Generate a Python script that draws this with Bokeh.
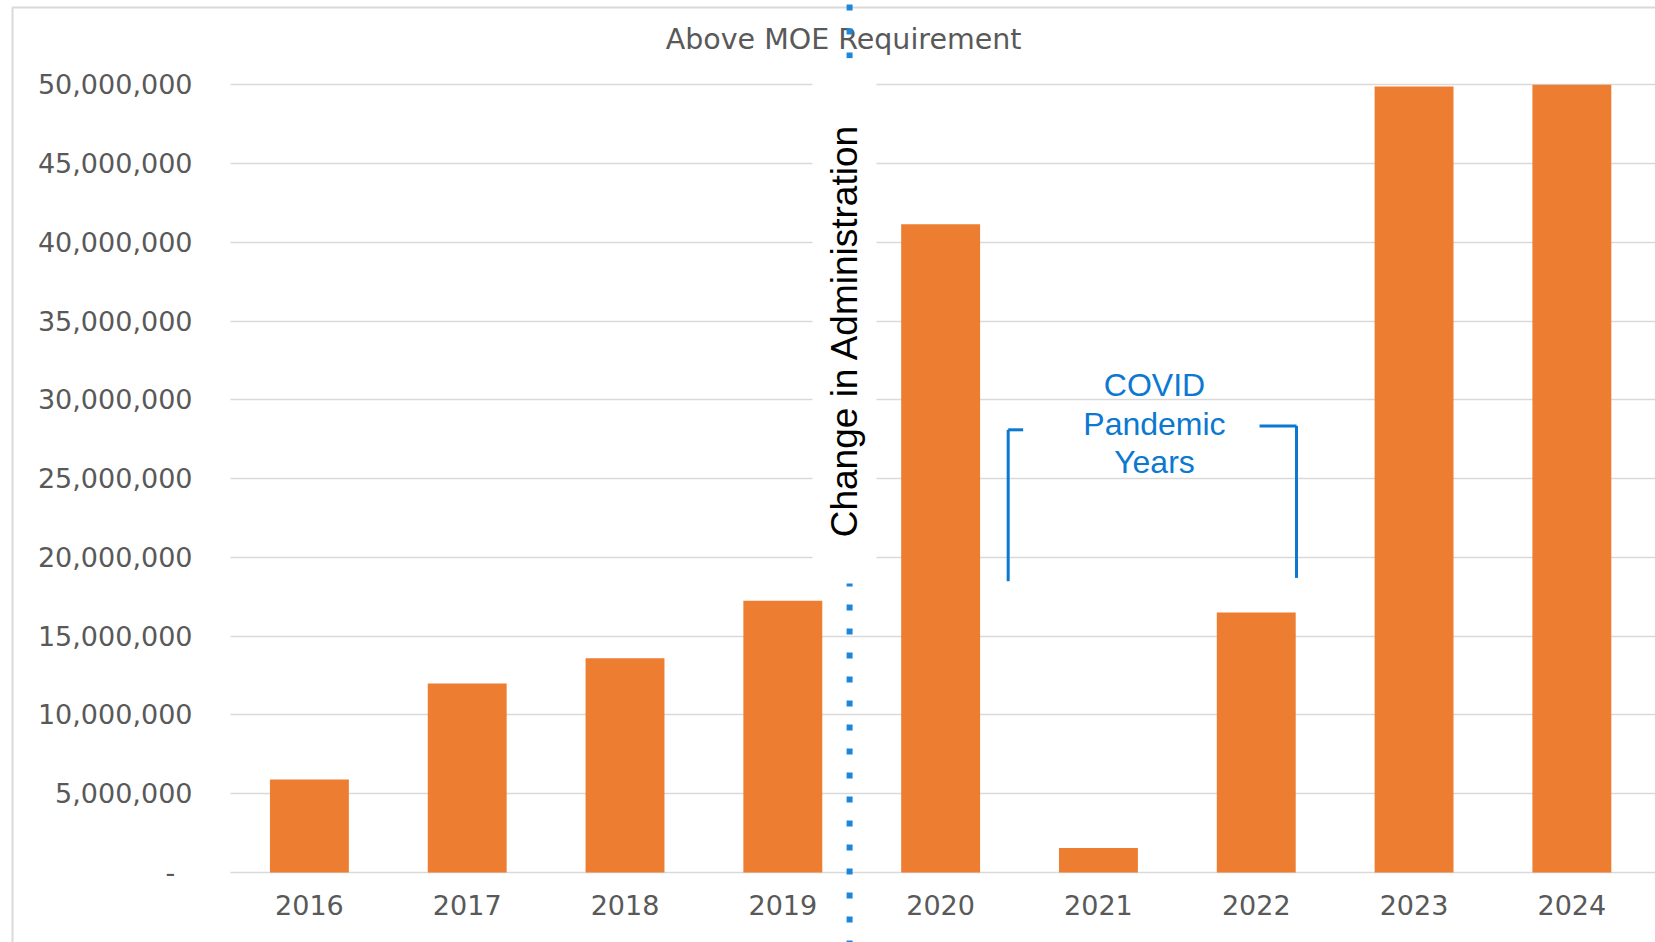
from bokeh.plotting import figure
from bokeh.models import (Range1d, FixedTicker, Label, Arrow,
                          BoxAnnotation, ColumnDataSource)
from bokeh.embed import file_html
from bokeh.resources import INLINE
import math

# ---------------- data ----------------
years = ["2016", "2017", "2018", "2019", "2020", "2021", "2022", "2023", "2024"]
above_moe = [5_900_000, 12_000_000, 13_600_000, 17_250_000, 41_150_000,
             1_550_000, 16_500_000, 49_900_000, 50_000_000]
y_ticks = [0, 5_000_000, 10_000_000, 15_000_000, 20_000_000, 25_000_000,
           30_000_000, 35_000_000, 40_000_000, 45_000_000, 50_000_000]
y_tick_labels = ["-\u00a0\u00a0", "5,000,000", "10,000,000", "15,000,000",
                 "20,000,000", "25,000,000", "30,000,000", "35,000,000",
                 "40,000,000", "45,000,000", "50,000,000"]
chart_title = "Above MOE Requirement"
admin_note = "Change in Administration"
covid_lines = ["COVID", "Pandemic", "Years"]

# ---------------- styles ----------------
BAR = "#ED7D31"
GRID = "#D9D9D9"
TXT = "#595959"
BLUE = "#0B78D1"
DOT = "#1A86DC"
TICK_FONT = "DejaVu Sans"
ARIAL = "Liberation Sans"

W, H = 1655, 942
# category slots: slot i spans [i, i+1]; plot area begins at 0
x_pos = [i + 0.5 for i in range(len(years))]
X_LEFT, X_RIGHT = -1.4575, 9.03
Y_BOTTOM, Y_TOP = -4_443_000, 55_351_000

p = figure(width=W, height=H, x_range=Range1d(X_LEFT, X_RIGHT),
           y_range=Range1d(Y_BOTTOM, Y_TOP), output_backend="svg",
           toolbar_location=None, min_border=0)
p.outline_line_color = None
p.background_fill_color = "white"
p.border_fill_color = "white"

# grid (light gray) — covered left of the plot area
p.xgrid.grid_line_color = None
p.ygrid.grid_line_color = GRID
p.ygrid.grid_line_width = 1.3
p.add_layout(BoxAnnotation(left=X_LEFT - 1, right=0, bottom=Y_BOTTOM - 1e7, top=Y_TOP + 1e7,
                           fill_color="white", fill_alpha=1.0, line_color=None,
                           line_alpha=0, level="underlay"))

src = ColumnDataSource(dict(x=x_pos, value=above_moe))
p.vbar(x="x", top="value", width=0.5, source=src, fill_color=BAR, line_color=None)

# axes drawn inside the canvas at fixed locations
p.yaxis.ticker = FixedTicker(ticks=y_ticks)
p.yaxis.major_label_overrides = {t: l for t, l in zip(y_ticks, y_tick_labels)}
p.yaxis.fixed_location = 0
p.xaxis.ticker = FixedTicker(ticks=x_pos)
p.xaxis.major_label_overrides = {t: l for t, l in zip(x_pos, years)}
p.xaxis.fixed_location = 0
for ax in (p.xaxis[0], p.yaxis[0]):
    ax.axis_line_color = None
    ax.major_tick_line_color = None
    ax.minor_tick_line_color = None
    ax.major_label_text_font = TICK_FONT
    ax.major_label_text_font_size = "27px"
    ax.major_label_text_color = TXT
p.yaxis.major_label_standoff = 32
p.xaxis.major_label_standoff = 16

# ---------------- annotations ----------------
# chart border (left and top edges)
p.add_layout(BoxAnnotation(left=-1.3815, right=X_RIGHT + 1, bottom=Y_BOTTOM - 1e7,
                           top=54_907_000, fill_alpha=0, line_color=GRID, line_width=2,
                           line_alpha=1))

# title
p.add_layout(Label(x=3.885, y=52_880_000, text=chart_title, text_align="center",
                   text_baseline="middle", text_font=TICK_FONT,
                   text_font_size="28.5px", text_color=TXT))

# dotted administration line
p.add_layout(Arrow(x_start=3.923, y_start=-4_697_000, x_end=3.923, y_end=Y_TOP + 1e6,
                   end=None, line_color=DOT, line_width=6, line_dash="6 18"))

# white box behind rotated note
p.add_layout(BoxAnnotation(left=3.688, right=4.094, bottom=18_350_000, top=51_680_000,
                           fill_color="white", fill_alpha=1.0, line_color=None,
                           line_alpha=0))
p.add_layout(Label(x=3.891, y=34_400_000, text=admin_note, angle=math.pi / 2,
                   text_align="center", text_baseline="middle", text_font=ARIAL,
                   text_font_size="37px", text_color="black"))

# COVID text
for txt, yv in zip(covid_lines, [30_960_000, 28_470_000, 26_080_000]):
    p.add_layout(Label(x=5.855, y=yv, text=txt, text_align="center",
                       text_baseline="middle", text_font=ARIAL,
                       text_font_size="32px", text_color=BLUE))

# brackets
def seg(x0, y0, x1, y1):
    p.add_layout(Arrow(x_start=x0, y_start=y0, x_end=x1, y_end=y1, end=None,
                       line_color=BLUE, line_width=3))

seg(4.928, 18_490_000, 4.928, 28_100_000)
seg(4.928, 28_100_000, 5.023, 28_100_000)
seg(6.521, 28_350_000, 6.755, 28_350_000)
seg(6.755, 28_350_000, 6.755, 18_700_000)

open("out.html", "w").write(file_html(p, INLINE))
